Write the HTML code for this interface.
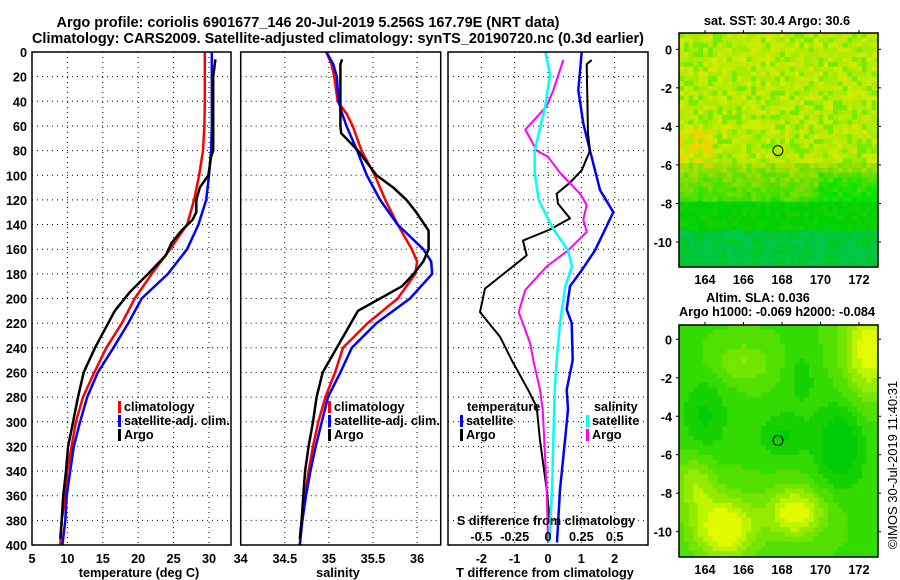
<!DOCTYPE html>
<html><head><meta charset="utf-8"><style>
html,body{margin:0;padding:0;background:#fff;}
svg{display:block;font-family:"Liberation Sans",sans-serif;font-weight:bold;}
</style></head><body>
<svg id="fig" width="900" height="580" viewBox="0 0 900 580" xmlns="http://www.w3.org/2000/svg">
<rect width="900" height="580" fill="#fff"/>
<text x="308" y="27" font-size="14.5" text-anchor="middle" textLength="503" lengthAdjust="spacingAndGlyphs">Argo profile: coriolis 6901677_146 20-Jul-2019 5.256S 167.79E (NRT data)</text>
<text x="338" y="43" font-size="14.5" text-anchor="middle" textLength="612" lengthAdjust="spacingAndGlyphs">Climatology: CARS2009. Satellite-adjusted climatology: synTS_20190720.nc (0.3d earlier)</text>
<g id="g"></g>
</svg>
<script>
// ---------- data ----------
const depthLabels = [0,20,40,60,80,100,120,140,160,180,200,220,240,260,280,300,320,340,360,380,400];
const tempTicks = [5,10,15,20,25,30];
const salTicks = [34,34.5,35,35.5,36];
const tdiffTicks = [-2,-1,0,1,2];
const sdiffTicks = [-0.5,-0.25,0,0.25,0.5];

const depthClim = [0,20,40,60,80,100,120,140,160,180,200,220,240,260,280,300,320,340,360,380,400];
const tempClim = [29.4,29.4,29.4,29.35,29.15,28.6,27.9,26.9,24.5,21.9,19.5,17.7,15.5,13.8,12.2,11.2,10.6,10.0,9.7,9.2,9.0];
const tempSat = [30.4,30.4,30.4,30.4,30.3,30.0,29.6,28.5,26.9,24.2,20.5,18.6,16.5,14.3,12.8,11.8,10.9,10.4,9.9,9.7,9.3];
const depthArgo = [6,20,40,60,80,85,100,110,120,130,136,145,155,165,180,195,210,240,260,280,300,320,340,360,380,395];
const tempArgo = [30.9,30.6,30.6,30.6,30.6,30.3,29.9,28.7,28.2,28.2,27.7,26.1,24.7,23.9,21.4,18.8,16.7,13.9,12.3,11.5,10.8,10.1,9.8,9.4,9.2,9.0];

const depthSal = [0,10,20,40,50,60,80,100,120,140,160,170,180,200,220,240,260,280,300,320,340,360,380,400];
const salClim = [34.97,35.03,35.06,35.10,35.20,35.27,35.37,35.52,35.64,35.78,35.94,36.0,35.98,35.78,35.44,35.16,35.07,34.96,34.88,34.82,34.77,34.73,34.69,34.67];
const salSat = [34.97,35.05,35.09,35.11,35.15,35.20,35.32,35.43,35.58,35.78,36.07,36.16,36.17,35.92,35.54,35.26,35.13,34.99,34.92,34.85,34.79,34.74,34.70,34.67];
const depthSalArgo = [6,10,60,66,80,100,110,120,130,145,160,170,180,190,200,210,240,260,280,300,320,340,360,380,395];
const salArgo = [35.15,35.13,35.13,35.14,35.33,35.54,35.73,35.88,35.99,36.13,36.13,36.07,35.96,35.83,35.58,35.33,35.09,34.93,34.86,34.82,34.77,34.73,34.71,34.69,34.67];

const depthTdSat = [0,31,58,80,112,130,161,177,190,209,220,250,274,290,315,355,398];
const tDiffSat = [1.01,0.91,1.06,1.26,1.56,1.96,1.41,1.01,0.66,0.56,0.71,0.74,0.56,0.6,0.51,0.36,0.27];
const depthTdArgo = [6.5,10,66,80,96,106,115,123,135,144,153,165,192,211,231,250,274,288,315,355,382,395];
const tDiffArgo = [1.31,1.16,1.2,1.26,1.01,0.66,0.26,0.3,0.66,0.06,-0.75,-0.64,-1.89,-2.04,-1.44,-1.09,-0.6,-0.34,-0.24,-0.04,0.06,0.06];
const depthSdArgo = [6.5,31,44,63,80,85,98,115,124,136,146,161,174,193,211,236,250,274,290,355,398];
const sDiffArgo = [0.115,0.04,-0.01,-0.17,-0.085,0,0.09,0.24,0.29,0.265,0.29,0.15,-0.01,-0.17,-0.22,-0.135,-0.11,-0.06,-0.04,-0.01,0];
const depthSdSat = [0,18,44,80,98,120,142,161,174,190,220,250,274,315,355,398];
const sDiffSat = [-0.02,0.015,-0.02,-0.1,-0.1,-0.07,0.03,0.15,0.18,0.13,0.09,0.065,0.05,0.04,0.03,0.01];

const latTicks = [0,-2,-4,-6,-8,-10];
const lonTicks = [164,166,168,170,172];
const floatLon = 167.79, floatLat = -5.256;

// ---------- helpers ----------
const NS = "http://www.w3.org/2000/svg";
const G = document.getElementById('g');
function mk(tag, attrs, parent){
  const e = document.createElementNS(NS, tag);
  for (const k in attrs) e.setAttribute(k, attrs[k]);
  (parent||G).appendChild(e); return e;
}
const FS = 12.7;
const Y0 = 52, Y1 = 545;
const yD = d => Y0 + d*(Y1-Y0)/400;

function panel(x0, x1, vmin, vmax, name){
  const sx = v => x0 + (v-vmin)*(x1-x0)/(vmax-vmin);
  const cp = mk('clipPath', {id:'cp-'+name});
  mk('rect', {x:x0, y:Y0, width:x1-x0, height:Y1-Y0}, cp);
  return sx;
}
function grid(x0,x1,xs){
  depthLabels.forEach(d=>{ if(d>0&&d<400){
    const l = mk('line',{x1:x0,x2:x1,y1:yD(d),y2:yD(d),stroke:'#000','stroke-width':1,'stroke-dasharray':'1,4'});
    
    
  }});
  xs.forEach(x=>{
    const l = mk('line',{x1:x,x2:x,y1:Y0,y2:Y1,stroke:'#000','stroke-width':1,'stroke-dasharray':'1,4'});
    
    
  });
}
function frame(x0,x1,name){
  const r = mk('rect',{x:x0,y:Y0,width:x1-x0,height:Y1-Y0,fill:'none',stroke:'#000','stroke-width':1.5});
  
  
}
function series(sx, depths, vals, color, w, name, clip){
  const pts = depths.map((d,i)=> sx(vals[i]).toFixed(1)+','+yD(d).toFixed(1)).join(' ');
  const p = mk('polyline',{points:pts,fill:'none',stroke:color,'stroke-width':w,'clip-path':'url(#cp-'+clip+')','stroke-linejoin':'round'});
  
  
}
function txt(x,y,s,size,anchor,name){
  const t = mk('text',{x:x,y:y,'font-size':size,'text-anchor':anchor||'start'});
  t.textContent = s;
  
  
  return t;
}
function legendItem(x,y,color,label,name){
  const m = mk('rect',{x:x,y:y-10,width:3,height:12,fill:color});
  
  
  txt(x+6,y,label,FS,'start',name);
}

// ---------- panel 1: temperature ----------
const sxT = panel(32,231,5,5+199/7.08,'temp');
grid(32,231,tempTicks.slice(1).map(sxT));
series(sxT, depthClim, tempClim, '#ff0000', 2.5, 'temp-climatology-line','temp');
series(sxT, depthClim, tempSat, '#0000ff', 2.5, 'temp-satellite-line','temp');
series(sxT, depthArgo, tempArgo, '#000', 2.5, 'temp-argo-line','temp');
frame(32,231,'temp-panel');
depthLabels.forEach(d=>txt(27,yD(d)+5,String(d),FS,'end','depth-tick-label'));
tempTicks.forEach(v=>txt(sxT(v),563,String(v),FS,'middle','temp-tick-label'));
txt(139,577,'temperature (deg C)',FS,'middle','temp-axis-title');
legendItem(118,411,'#ff0000','climatology','temp-legend-climatology');
legendItem(118,425,'#0000ff','satellite-adj. clim.','temp-legend-satellite');
legendItem(118,439,'#000','Argo','temp-legend-argo');

// ---------- panel 2: salinity ----------
const sxS = panel(240.7,440.7,34,34+200/88.2,'sal');
grid(240.7,440.7,salTicks.slice(1).map(sxS));
series(sxS, depthSal, salClim, '#ff0000', 2.5, 'sal-climatology-line','sal');
series(sxS, depthSal, salSat, '#0000ff', 2.5, 'sal-satellite-line','sal');
series(sxS, depthSalArgo, salArgo, '#000', 2.5, 'sal-argo-line','sal');
frame(240.7,440.7,'sal-panel');
salTicks.forEach(v=>txt(sxS(v),563,String(v),FS,'middle','sal-tick-label'));
txt(338,577,'salinity',FS,'middle','sal-axis-title');
legendItem(328,411,'#ff0000','climatology','sal-legend-climatology');
legendItem(328,425,'#0000ff','satellite-adj. clim.','sal-legend-satellite');
legendItem(328,439,'#000','Argo','sal-legend-argo');

// ---------- panel 3: differences ----------
const sxTd = panel(448,648,-3,3,'diff');
const sxSd = v => 448 + (v+0.75)*200/1.5;
grid(448,648,tdiffTicks.map(sxTd));
series(sxTd, depthTdSat, tDiffSat, '#0000ff', 2.5, 'tdiff-satellite-line','diff');
series(sxTd, depthTdArgo, tDiffArgo, '#000', 2, 'tdiff-argo-line','diff');
series(sxSd, depthSdArgo, sDiffArgo, '#ff00ff', 2, 'sdiff-argo-line','diff');
series(sxSd, depthSdSat, sDiffSat, '#00ffff', 2.5, 'sdiff-satellite-line','diff');
frame(448,648,'diff-panel');
tdiffTicks.forEach(v=>txt(sxTd(v),563,String(v),FS,'middle','tdiff-tick-label'));
txt(545,577,'T difference from climatology',FS,'middle','tdiff-axis-title');
txt(546,525,'S difference from climatology',FS,'middle','sdiff-axis-title');
sdiffTicks.forEach(v=>txt(sxSd(v),541,String(v),FS,'middle','sdiff-tick-label'));
txt(467,411,'temperature',FS,'start','diff-legend-temperature-title');
legendItem(460,425,'#0000ff','satellite','diff-legend-temp-satellite');
legendItem(460,439,'#000','Argo','diff-legend-temp-argo');
txt(594,411,'salinity',FS,'start','diff-legend-salinity-title');
legendItem(586,425,'#00ffff','satellite','diff-legend-sal-satellite');
legendItem(586,439,'#ff00ff','Argo','diff-legend-sal-argo');

// ---------- maps ----------
const MX0=679, MX1=878, LON0=162.65, LON1=172.99;
const mxL = lon => MX0 + (lon-LON0)*(MX1-MX0)/(LON1-LON0);
function hash(i,j){ let n = (i*73856093) ^ (j*19349663); n = (n ^ (n>>>13)) * 1274126177; n = n ^ (n>>>16); return ((n>>>0)%10007)/10007; }
function sstColor(lon,lat,i,j){
  const r = hash(i,j), r2 = hash(j+57,i+11);
  let h, l;
  if (lat > -6) { h = 72 + (r-0.5)*14; l = 46; if (r2>0.8) h = 90; }
  else if (lat > -8) { h = 80 + (-6-lat)*12 + (r-0.5)*20; l = 44; }
  else { h = 118 + (r-0.5)*12; l = 41; if (lat<-9.5) { h = 130 + r*15; l = 39; } }
  if (lon<164.5 && lat>-6.2 && lat<-4.2 && r2>0.5) h = 55;
  if (lon>170 && lat>-8 && lat<-6.3) h += 15;
  return 'hsl('+h.toFixed(0)+',100%,'+l+'%)';
}
function g2(lon,lat,cx,cy,sx,sy){ return Math.exp(-((lon-cx)*(lon-cx)/(sx*sx)+(lat-cy)*(lat-cy)/(sy*sy))); }
function slaColor(lon,lat){
  let v = 0.35 + 0.8*g2(lon,lat,165,-9.8,1.6,1.6) + 0.7*g2(lon,lat,168.7,-9.0,1.5,1.3)
        + 0.7*g2(lon,lat,172.5,-0.5,1.3,2.5) + 0.3*g2(lon,lat,166,-1.2,1.5,1) + 0.4*g2(lon,lat,163.5,-7.5,1,1.5)
        - 0.45*g2(lon,lat,171,-5.5,1.3,2.2) - 0.3*g2(lon,lat,164,-4,1.2,2) - 0.3*g2(lon,lat,168,-5,1.2,1.2)
        - 0.2*g2(lon,lat,169,-2,0.8,1.5);
  v = Math.max(0,Math.min(1,v));
  v = Math.round(v*7)/7;
  const h = 122 - v*56;
  return 'hsl('+h.toFixed(0)+',100%,'+(40+v*9).toFixed(0)+'%)';
}
function drawMap(yTop,yBot,lat0y,lat10y,colorFn,name){
  const pxLat = (lat10y-lat0y)/10;
  const myL = lat => lat0y - lat*pxLat;
  const latTop = (lat0y-yTop)/pxLat, latBot = -(yBot-lat0y)/pxLat;
  const grp = mk('g',{});
  
  
  const cs = 0.25;
  let i=0;
  for (let lon=LON0; lon<LON1; lon+=cs, i++){
    let j=0;
    for (let lat=latTop; lat>latBot; lat-=cs, j++){
      const x = mxL(lon), y = myL(lat);
      const w = Math.min(cs*19.25+0.6, MX1-x), hgt = Math.min(cs*pxLat+0.6, yBot-y);
      mk('rect',{x:x.toFixed(1),y:y.toFixed(1),width:w.toFixed(1),height:hgt.toFixed(1),fill:colorFn(lon+cs/2,lat-cs/2,i,j)},grp);
    }
  }
  const c = mk('circle',{cx:mxL(floatLon),cy:myL(floatLat),r:5,fill:'none',stroke:'#000','stroke-width':1});
  
  
  const f = mk('rect',{x:MX0,y:yTop,width:MX1-MX0,height:yBot-yTop,fill:'none',stroke:'#000','stroke-width':1.5});
  
  
  latTicks.forEach(v=>{
    txt(672,myL(v)+5,String(v),FS,'end',name+'-lat-label');
    mk('line',{x1:MX0-3,x2:MX0,y1:myL(v),y2:myL(v),stroke:'#000'});
    mk('line',{x1:MX1,x2:MX1+3,y1:myL(v),y2:myL(v),stroke:'#000'});
  });
  lonTicks.forEach(v=>{
    txt(mxL(v),yBot+17,String(v),FS,'middle',name+'-lon-label');
    mk('line',{x1:mxL(v),x2:mxL(v),y1:yTop-3,y2:yTop,stroke:'#000'});
  });
}
drawMap(33,267,49.3,242,sstColor,'sst-map');
drawMap(325,557,339.3,531.7,(lon,lat)=>slaColor(lon,lat),'sla-map');
txt(777,25,'sat. SST: 30.4 Argo: 30.6',FS,'middle','sst-map-title');
txt(758,302,'Altim. SLA: 0.036',FS,'middle','sla-map-title');
txt(777,316,'Argo h1000: -0.069 h2000: -0.084',FS,'middle','sla-map-subtitle');
const cr = txt(0,0,'©IMOS 30-Jul-2019 11:40:31',13,'middle','timestamp-credit');
cr.setAttribute('font-weight','normal');
cr.setAttribute('transform','translate(897,465) rotate(-90)');
</script>
</body></html>
